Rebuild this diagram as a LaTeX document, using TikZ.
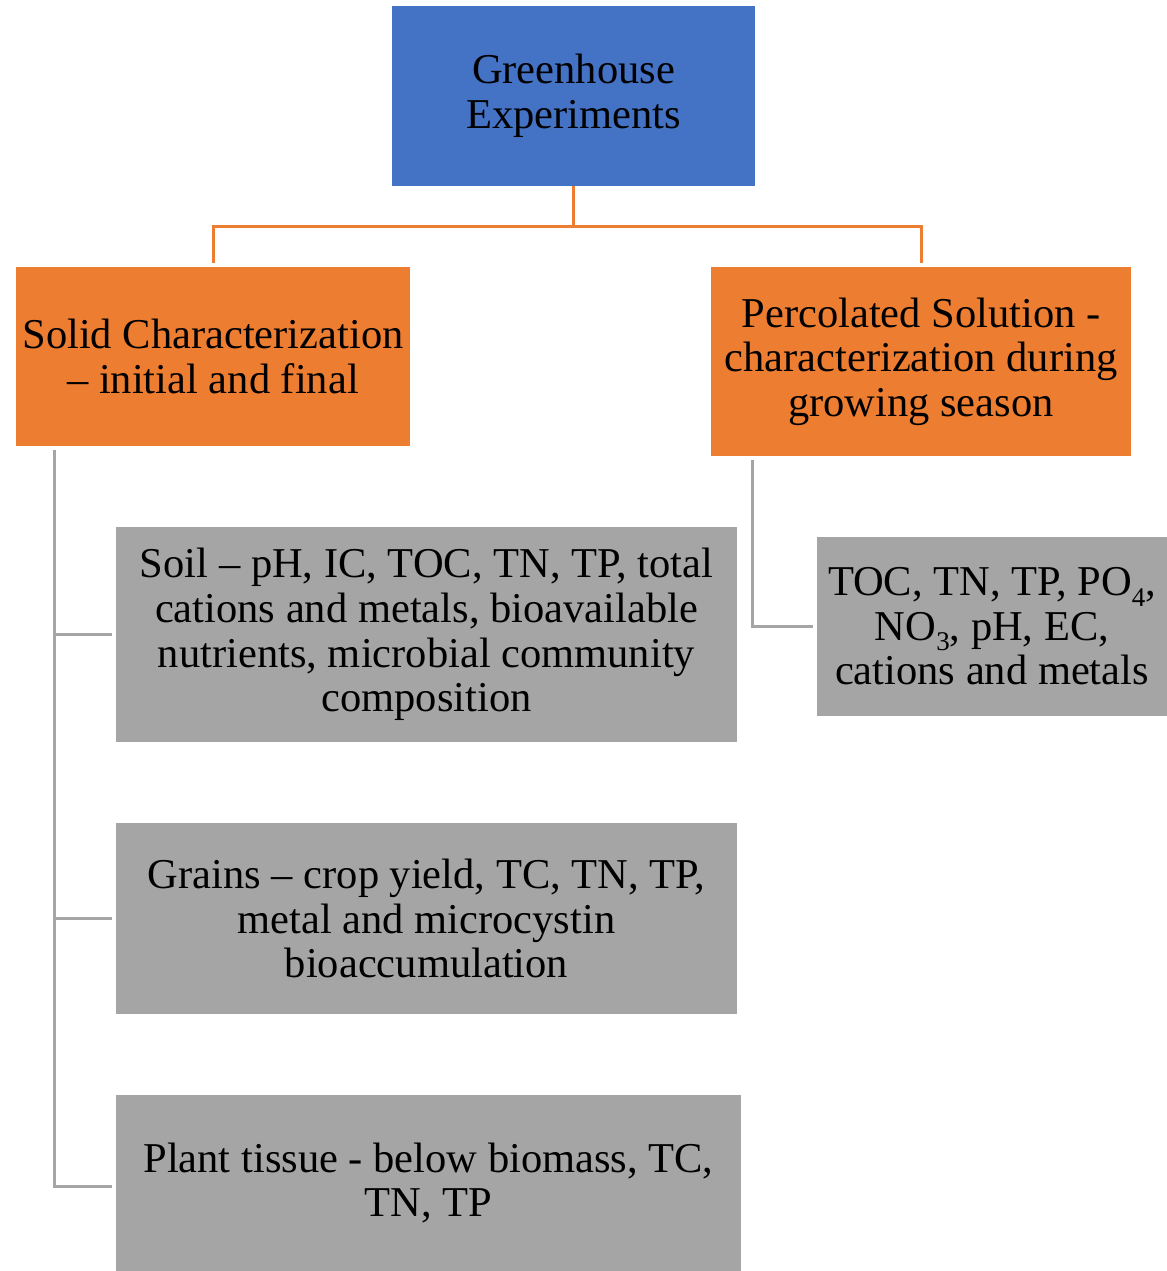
\documentclass[tikz,border=0pt]{standalone}
\usepackage{fontspec}
\setmainfont{Liberation Serif}
\usetikzlibrary{positioning,calc}

\definecolor{ghblue}{HTML}{4472C4}
\definecolor{ghorange}{HTML}{ED7D31}
\definecolor{ghgray}{HTML}{A5A5A5}

\newcommand{\lowidx}[1]{\smash{\raisebox{-0.25em}{\fontsize{13.5}{13.5}\selectfont #1}}} %chemical index

\begin{document}
\begin{tikzpicture}[x=0.5pt,y=-0.5pt,
    box/.style={inner sep=0pt, outer sep=0pt, align=flush center,
      font=\fontsize{21.25}{22.3}\selectfont},
    topbox/.style={box, fill=ghblue},
    midbox/.style={box, fill=ghorange},
    subbox/.style={box, fill=ghgray},
    orangeline/.style={draw=ghorange, line width=1.5pt},
    grayline/.style={draw=ghgray, line width=1.5pt}]
  \useasboundingbox (0,0) rectangle (1167,1271); %page size in px

  %Top box
  \node[topbox, text width=181.5pt, minimum height=90pt] (green) at (573.5,96)
    {Greenhouse\\Experiments};

  %Second level
  \node[midbox, text width=197pt, minimum height=89.5pt] (solid) at (213,356.5)
    {Solid Characterization\\– initial and final};
  \node[midbox, text width=210pt, minimum height=94.5pt] (perc) at (921,361.5)
    {Percolated Solution -\\characterization during\\growing season};

  %Measurements under solid characterization
  \node[subbox, text width=310.5pt, minimum height=107.5pt] (soil) at (426.5,634.5)
    {Soil – pH, IC, TOC, TN, TP, total\\cations and metals, bioavailable\\nutrients, microbial community\\composition};
  \node[subbox, text width=310.5pt, minimum height=95.5pt] (grains) at (426.5,918.5)
    {Grains – crop yield, TC, TN, TP,\\metal and microcystin\\bioaccumulation};
  \node[subbox, text width=312.5pt, minimum height=88pt] (plant) at (428.5,1183)
    {Plant tissue - below biomass, TC,\\TN, TP};

  %Measurements under percolated solution
  \node[subbox, text width=175pt, minimum height=89.5pt] (toc) at (992,626.5)
    {TOC, TN, TP, PO\lowidx{4},\\NO\lowidx{3}, pH, EC,\\cations and metals};

  %Orange connectors
  \draw[orangeline, shorten >=2pt] (green.south) -- ++(0,40) -| (solid.north);
  \draw[orangeline, shorten >=2pt] (green.south) -- ++(0,40) -| (perc.north);

  %Gray connectors
  \draw[grayline, shorten >=2pt] ([xshift=19pt,yshift=-2pt]solid.south west) |- (soil.west);
  \draw[grayline, shorten >=2pt] ([xshift=19pt,yshift=-2pt]solid.south west) |- (grains.west);
  \draw[grayline, shorten >=2pt] ([xshift=19pt,yshift=-2pt]solid.south west) |- ([yshift=-1.5pt]plant.west);
  \draw[grayline, shorten >=2pt] ([xshift=20.5pt,yshift=-2pt]perc.south west) |- (toc.west);
\end{tikzpicture}
\end{document}
